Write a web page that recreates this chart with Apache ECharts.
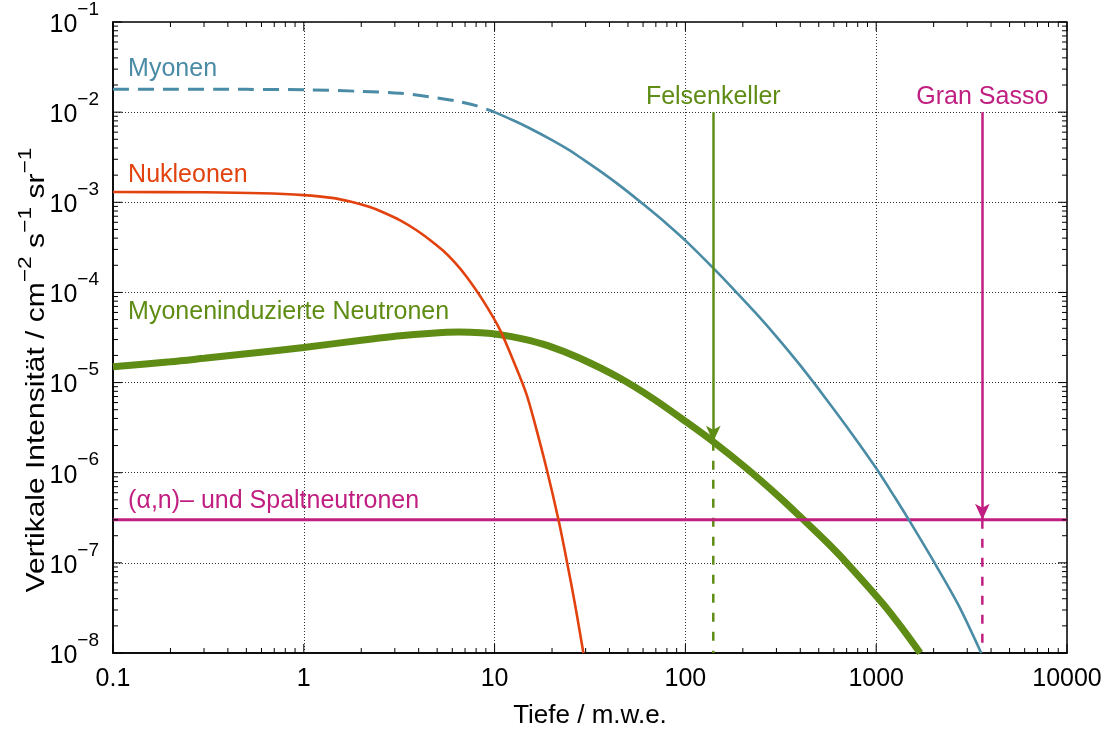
<!DOCTYPE html>
<html>
<head>
<meta charset="utf-8">
<script src="https://cdn.jsdelivr.net/npm/echarts@6/dist/echarts.min.js"></script>
<style>
html,body{margin:0;padding:0;background:#fff;}
#c{width:1116px;height:731px;}
</style>
</head>
<body>
<div id="c"></div>
<script>
// ---------- data ----------
const xTickLabels = ['0.1', '1', '10', '100', '1000', '10000'];
const xMin = 0.1, xMax = 10000, yMin = 1e-8, yMax = 1e-1;

const muonDashX = [0.1, 0.5, 1, 2, 3.2, 5, 6.5, 8, 10];
const muonDashY = [0.018, 0.0179, 0.0177, 0.017, 0.0162, 0.0144, 0.0131, 0.0118, 0.0100];

const muonX = [10, 12.5, 15, 20, 25, 28, 35, 45, 60, 80, 103, 143, 180, 234, 300, 400, 550, 750, 1000, 1250, 1500, 2075, 2700, 3550];
const muonY = [1e-2, 8.13e-3, 6.76e-3, 4.9e-3, 3.72e-3, 3.16e-3, 2.29e-3, 1.55e-3, 9.55e-4, 5.75e-4, 3.55e-4, 1.78e-4, 1.07e-4, 5.89e-5, 3.24e-5, 1.55e-5, 6.46e-6, 2.66e-6, 1.12e-6, 5.37e-7, 2.88e-7, 9.1e-8, 3.39e-8, 1e-8];

const nucleonX = [0.1, 0.3, 0.6, 1.0, 1.4, 1.75, 2.2, 2.6, 3.2, 3.9, 4.6, 5.4, 6.2, 7.1, 8.7, 10.7, 13.0, 14.7, 16.0, 18.7, 21.6, 23.9, 26.5, 29.2];
const nucleonY = [1.3e-3, 1.29e-3, 1.26e-3, 1.2e-3, 1.12e-3, 1.02e-3, 8.9e-4, 7.76e-4, 6.3e-4, 4.9e-4, 3.8e-4, 2.88e-4, 2.14e-4, 1.51e-4, 8.1e-5, 3.8e-5, 1.45e-5, 7.4e-6, 3.98e-6, 1.12e-6, 3.02e-7, 1.05e-7, 3.3e-8, 1e-8];

const muNeutronX = [0.1, 0.2, 0.3, 0.5, 1, 2, 3.2, 4.5, 6.5, 8.5, 10.7, 14, 19, 28, 45, 68, 100, 140, 210, 310, 415, 550, 700, 1090, 1400, 1700];
const muNeutronY = [1.5e-5, 1.7e-5, 1.86e-5, 2.09e-5, 2.45e-5, 2.95e-5, 3.31e-5, 3.51e-5, 3.63e-5, 3.56e-5, 3.39e-5, 3.05e-5, 2.57e-5, 1.86e-5, 1.13e-5, 6.6e-6, 3.72e-6, 2.21e-6, 1.11e-6, 5.4e-7, 3.02e-7, 1.7e-7, 1e-7, 3.47e-8, 1.76e-8, 1e-8];

const alphaNX = [0.1, 10000];
const alphaNY = [3e-7, 3e-7];

const siteNames = ['Felsenkeller', 'Gran Sasso'];
const siteDepth = [140, 3600];
const siteArrowTop = [1e-2, 1e-2];
const siteArrowEnd = [2.21e-6, 3e-7];

const labelTexts = ['Myonen', 'Nukleonen', 'Myoneninduzierte Neutronen', '(α,n)– und Spaltneutronen', 'Felsenkeller', 'Gran Sasso'];
const labelX = [0.12, 0.12, 0.12, 0.12, 140, 3600];
const labelY = [0.03, 2e-3, 6e-5, 4.9e-7, 0.0148, 0.0148];

const yTitle = 'Vertikale Intensität / cm{s|−2} s{s|−1} sr{s|−1}';
const xTitle = 'Tiefe / m.w.e.';

// ---------- styles ----------
const C_BLUE = '#4a8ba6', C_RED = '#e2420d', C_GREEN = '#5f8c14', C_MAG = '#c01f81';
const labelColors = [C_BLUE, C_RED, C_GREEN, C_MAG, C_GREEN, C_MAG];
const labelAlign = ['left', 'left', 'left', 'left', 'center', 'center'];
const FONT = '"Liberation Sans", Arial, Helvetica, sans-serif';

const zip = (xs, ys) => xs.map((x, i) => [x, ys[i]]);

// tick positions for minor/major ticks on all four sides
function decadeTicks(lo, hi) {
  const out = [];
  for (let e = Math.round(Math.log10(lo)); e < Math.round(Math.log10(hi)); e++) {
    for (let m = 1; m <= 9; m++) out.push([m * Math.pow(10, e), m === 1 ? 1 : 0]);
  }
  out.push([hi, 1]);
  return out;
}
const xTicks = decadeTicks(xMin, xMax);
const yTicks = decadeTicks(yMin, yMax);

function lineEl(x1, y1, x2, y2) {
  return { type: 'line', shape: { x1, y1, x2, y2 }, style: { stroke: '#000', lineWidth: 1 } };
}

const chart = echarts.init(document.getElementById('c'), null, { renderer: 'canvas' });

const SM = 0.3;
const series = [];

// muon-induced neutrons (thick green)
series.push({
  type: 'line', name: 'muNeutron', data: zip(muNeutronX, muNeutronY),
  showSymbol: false, smooth: SM,
  lineStyle: { color: C_GREEN, width: 7 }, z: 3, silent: true,
  markLine: {
    silent: true, symbol: ['none', 'arrow'], symbolSize: [11, 16],
    label: { show: false },
    lineStyle: { color: C_GREEN, width: 2.5, type: 'solid' },
    data: [[{ coord: [siteDepth[0], siteArrowTop[0]] }, { coord: [siteDepth[0], siteArrowEnd[0]] }]]
  }
});
// felsenkeller dashed continuation
series.push({
  type: 'line', data: [[siteDepth[0], siteArrowEnd[0]], [siteDepth[0], yMin]],
  showSymbol: false, silent: true, z: 2,
  lineStyle: { color: C_GREEN, width: 2.5, type: [9, 10] }
});
// (alpha,n) horizontal line
series.push({
  type: 'line', data: zip(alphaNX, alphaNY), showSymbol: false, silent: true, z: 3,
  lineStyle: { color: C_MAG, width: 3 },
  markLine: {
    silent: true, symbol: ['none', 'arrow'], symbolSize: [11, 16],
    label: { show: false },
    lineStyle: { color: C_MAG, width: 2.5, type: 'solid' },
    data: [[{ coord: [siteDepth[1], siteArrowTop[1]] }, { coord: [siteDepth[1], siteArrowEnd[1]] }]]
  }
});
series.push({
  type: 'line', data: [[siteDepth[1], siteArrowEnd[1]], [siteDepth[1], yMin]],
  showSymbol: false, silent: true, z: 2,
  lineStyle: { color: C_MAG, width: 2.5, type: [9, 10] }
});
// nucleons
series.push({
  type: 'line', data: zip(nucleonX, nucleonY), showSymbol: false, silent: true,
  smooth: SM, z: 4,
  lineStyle: { color: C_RED, width: 2.6 }
});
// muons dashed
series.push({
  type: 'line', data: zip(muonDashX, muonDashY), showSymbol: false, silent: true,
  smooth: SM, z: 4,
  lineStyle: { color: C_BLUE, width: 3, type: [16, 9] }
});
// muons solid
series.push({
  type: 'line', data: zip(muonX, muonY), showSymbol: false, silent: true,
  smooth: SM, z: 4,
  lineStyle: { color: C_BLUE, width: 2.6 }
});
// text labels
series.push({
  type: 'scatter', symbolSize: 0, silent: true, z: 6,
  itemStyle: { opacity: 1 },
  data: labelTexts.map((t, i) => ({
    value: [labelX[i], labelY[i]],
    label: {
      show: true, position: 'inside', formatter: t, color: labelColors[i],
      align: labelAlign[i], verticalAlign: 'middle', opacity: 1,
      fontFamily: FONT, fontSize: 25
    }
  }))
});
// x ticks (bottom & top)
series.push({
  type: 'custom', silent: true, clip: false, z: 10,
  data: xTicks.map(t => [t[0], yMin, t[1]]),
  renderItem: function (params, api) {
    const v = api.value(0), major = api.value(2) === 1;
    const b = api.coord([v, yMin]), t = api.coord([v, yMax]);
    const len = major ? 9 : 5;
    return { type: 'group', children: [lineEl(b[0], b[1], b[0], b[1] - len), lineEl(t[0], t[1], t[0], t[1] + len)] };
  }
});
// y ticks (left & right)
series.push({
  type: 'custom', silent: true, clip: false, z: 10,
  data: yTicks.map(t => [xMin, t[0], t[1]]),
  renderItem: function (params, api) {
    const v = api.value(1), major = api.value(2) === 1;
    const l = api.coord([xMin, v]), r = api.coord([xMax, v]);
    const len = major ? 9 : 5;
    return { type: 'group', children: [lineEl(l[0], l[1], l[0] + len, l[1]), lineEl(r[0], r[1], r[0] - len, r[1])] };
  }
});

const option = {
  animation: false,
  backgroundColor: '#fff',
  grid: { left: 113, right: 49, top: 22, bottom: 78, show: true, borderColor: '#000', borderWidth: 1.5, containLabel: false, outerBoundsMode: 'none' },
  graphic: [{
    type: 'text', x: 37, y: 370, rotation: Math.PI / 2, scaleX: 1.2, silent: true,
    style: {
      text: yTitle, fill: '#000', fontFamily: FONT, fontSize: 25, lineHeight: 42,
      align: 'center', verticalAlign: 'middle',
      rich: { s: { fontFamily: FONT, fontSize: 19, verticalAlign: 'top', lineHeight: 42, fill: '#000' } }
    }
  }],
  xAxis: {
    type: 'log', logBase: 10, min: xMin, max: xMax, splitNumber: 5,
    name: xTitle, nameLocation: 'middle', nameGap: 50,
    nameTextStyle: { fontFamily: FONT, fontSize: 26, color: '#000' },
    axisLine: { show: true, lineStyle: { color: '#000', width: 1.5 } },
    axisTick: { show: false },
    minorTick: { show: false },
    axisLabel: {
      margin: 14, fontFamily: FONT, fontSize: 25, color: '#000',
      formatter: function (v) { const k = Math.round(Math.log10(v)) + 1; return xTickLabels[k] !== undefined ? xTickLabels[k] : ''; }
    },
    splitLine: { show: true, lineStyle: { color: '#333', width: 1, type: [1, 2] } }
  },
  yAxis: {
    type: 'log', logBase: 10, min: yMin, max: yMax, splitNumber: 7,
    axisLine: { show: true, lineStyle: { color: '#000', width: 1.5 } },
    axisTick: { show: false },
    minorTick: { show: false },
    axisLabel: {
      margin: 14, color: '#000',
      formatter: function (v) { const e = Math.round(Math.log10(v)); return '{b|10}{s|' + (e < 0 ? '−' : '') + Math.abs(e) + '}'; },
      rich: {
        b: { fontFamily: FONT, fontSize: 25, color: '#000', lineHeight: 44, verticalAlign: 'middle', padding: [6, 0, 0, 0] },
        s: { fontFamily: FONT, fontSize: 19, color: '#000', lineHeight: 44, verticalAlign: 'top' }
      }
    },
    splitLine: { show: true, lineStyle: { color: '#333', width: 1, type: [1, 2] } }
  },
  series: series
};
chart.setOption(option);
</script>
</body>
</html>
